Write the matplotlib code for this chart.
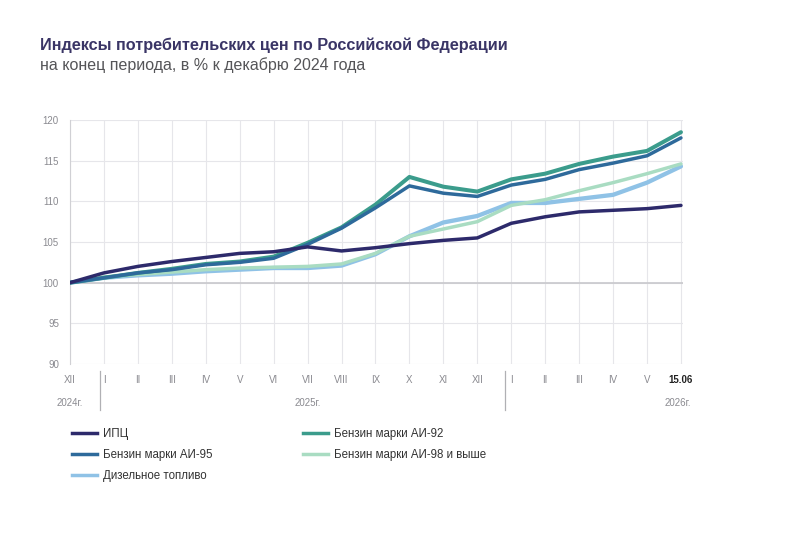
import matplotlib
matplotlib.use("Agg")
import matplotlib.pyplot as plt
from matplotlib.lines import Line2D
import matplotlib.transforms as mtransforms

plt.rcParams['font.family'] = ['Liberation Sans', 'DejaVu Sans']

labels = ["XII", "I", "II", "III", "IV", "V", "VI", "VII", "VIII", "IX", "X", "XI", "XII",
          "I", "II", "III", "IV", "V", "15.06"]

cpi   = [100, 101.2, 102.0, 102.6, 103.1, 103.6, 103.8, 104.4, 103.9, 104.3, 104.8, 105.2, 105.5,
         107.3, 108.1, 108.7, 108.9, 109.1, 109.5]
ai92  = [100, 100.6, 101.2, 101.7, 102.3, 102.6, 103.2, 104.9, 106.8, 109.6, 113.0, 111.8, 111.2,
         112.7, 113.4, 114.6, 115.5, 116.2, 118.5]
ai95  = [100, 100.6, 101.2, 101.6, 102.2, 102.5, 103.0, 104.7, 106.7, 109.2, 111.9, 111.0, 110.6,
         112.0, 112.7, 113.9, 114.7, 115.6, 117.8]
ai98  = [100, 100.7, 101.0, 101.3, 101.6, 101.8, 101.9, 102.0, 102.3, 103.6, 105.7, 106.6, 107.5,
         109.5, 110.2, 111.3, 112.3, 113.4, 114.6]
diesel = [100, 100.6, 100.9, 101.1, 101.4, 101.6, 101.8, 101.8, 102.1, 103.5, 105.7, 107.4, 108.2,
          109.8, 109.8, 110.3, 110.8, 112.3, 114.3]

years = ["2024г.", "2025г.", "2026г."]

c_cpi = "#2d2a6b"
c_92 = "#3b9c8c"
c_95 = "#2e6a9b"
c_98 = "#a9dcc2"
c_ds = "#8fc2e6"

fig = plt.figure(figsize=(8, 5.48), dpi=100)
ax = fig.add_axes([70/800, 1-364/548, 613/800, 244/548])

x = list(range(len(labels)))
lw = 2.5
ax.plot(x, diesel, color=c_ds, lw=lw+0.6, solid_capstyle='round', zorder=3)
ax.plot(x, ai98, color=c_98, lw=lw, solid_capstyle='round', zorder=3)
ax.plot(x, ai92, color=c_92, lw=lw+0.4, solid_capstyle='round', zorder=4)
ax.plot(x, ai95, color=c_95, lw=lw, solid_capstyle='round', zorder=5)
ax.plot(x, cpi, color=c_cpi, lw=lw, solid_capstyle='round', zorder=6)

ax.set_xlim(0, 18.06)
ax.set_ylim(90, 120)
ax.set_yticks(range(90, 121, 5))
ax.set_xticks(x)
ax.set_xticklabels(labels)
ax.grid(True, color="#e6e6ea", lw=0.8)
ax.axhline(100, color="#c8c8cc", lw=1.2, zorder=2)
for s in ["top", "right", "bottom"]:
    ax.spines[s].set_visible(False)
ax.spines["left"].set_color("#d0d0d4")
ax.tick_params(axis='both', length=0, labelsize=7, labelcolor="#8a8a90")
ax.tick_params(axis='x', pad=8)
ax.tick_params(axis='y', pad=8)
lbls = ax.get_xticklabels()
lbls[-1].set_fontweight('bold')
lbls[-1].set_color("#222222")

trans = mtransforms.blended_transform_factory(ax.transData, ax.transAxes)
for sx in [0.88, 12.83]:
    ax.plot([sx, sx], [-0.03, -0.19], transform=trans, color="#b0b0b4", lw=0.9, clip_on=False)
for xp, t in zip([0, 7, 17.9], years):
    ax.text(xp, -0.16, t, transform=trans, ha='center', va='center', fontsize=7, color="#8a8a90")

fig.text(40/800, 1-45/548, "Индексы потребительских цен по Российской Федерации",
         fontsize=11.7, fontweight='bold', color="#3a3566", va='center')
fig.text(40/800, 1-65/548, "на конец периода, в % к декабрю 2024 года",
         fontsize=11.5, color="#555558", va='center')

handles = [Line2D([], [], color=c_cpi, lw=2.5), Line2D([], [], color=c_95, lw=2.5),
           Line2D([], [], color=c_ds, lw=2.5), Line2D([], [], color=c_92, lw=2.5),
           Line2D([], [], color=c_98, lw=2.5)]
names = ["ИПЦ", "Бензин марки АИ-95", "Дизельное топливо", "Бензин марки АИ-92",
         "Бензин марки АИ-98 и выше"]
fig.legend(handles, names, loc='upper left', bbox_to_anchor=(62/800, 1-418/548), ncol=2,
           frameon=False, fontsize=8.3, handlelength=2.1, handletextpad=0.55,
           columnspacing=7.9, labelspacing=0.75, labelcolor="#333333")

fig.savefig("out.png", dpi=100, facecolor="white")
